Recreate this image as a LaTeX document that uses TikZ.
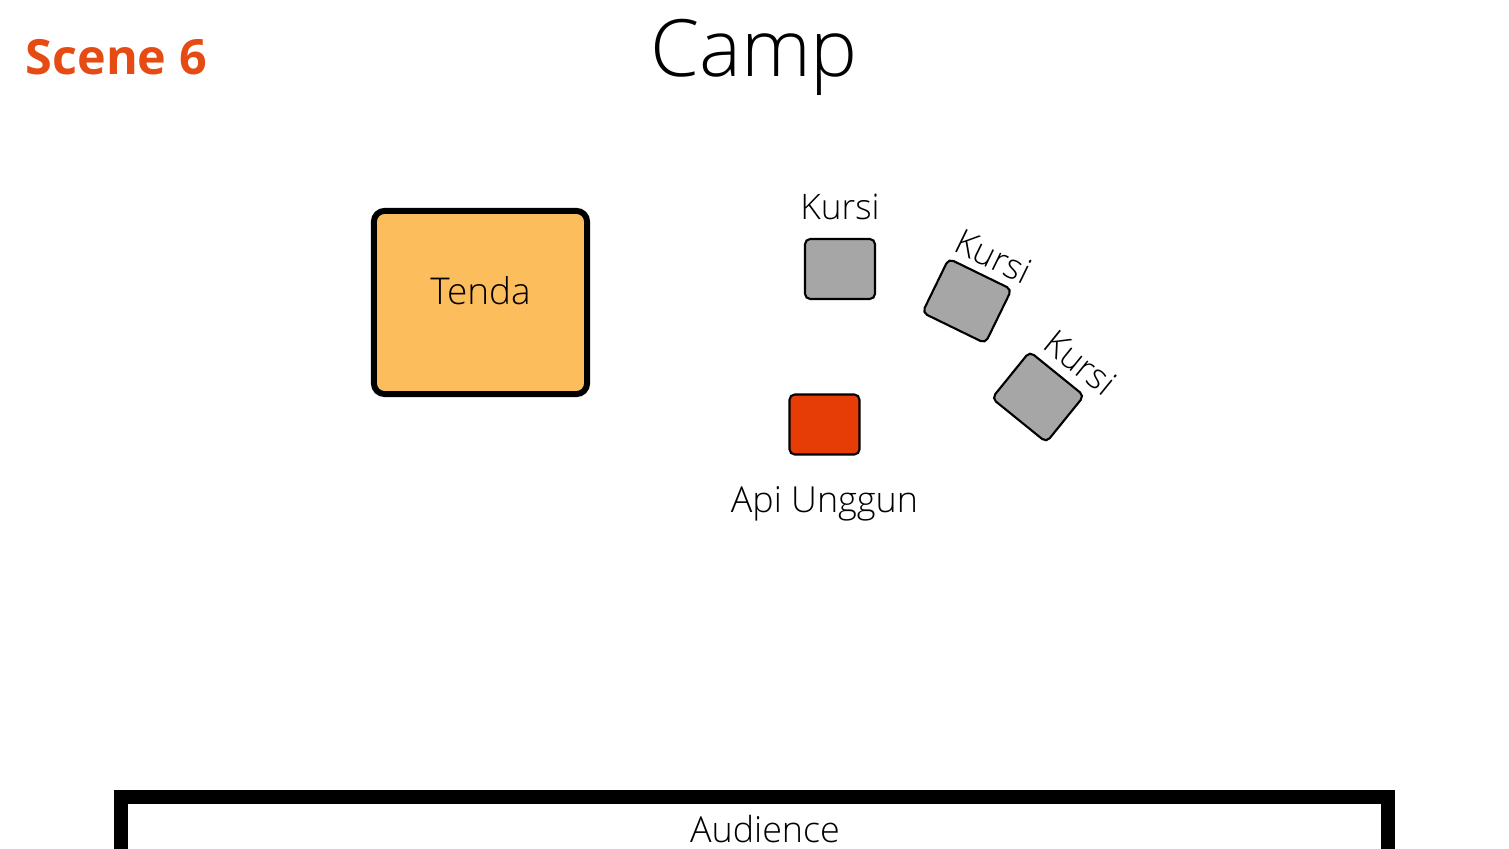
\documentclass[tikz,border=0pt]{standalone}
\usepackage{fontspec}
\setmainfont{Open Sans}
\newfontfamily\lightfont{Open Sans Light}
\usetikzlibrary{positioning}
\definecolor{scenered}{HTML}{E54B12}
\definecolor{tentfill}{HTML}{FCBD5C}
\definecolor{chairgray}{HTML}{A6A6A6}
\definecolor{firered}{HTML}{E63C05}

\tikzset{
  chair/.style={draw, line width=0.6pt, fill=chairgray, rounded corners=1.5pt,
    minimum width=0.70cm, minimum height=0.60cm, inner sep=0pt},
  tag/.style={font=\lightfont\fontsize{10}{12}\selectfont, inner sep=1pt}
}

\begin{document}
\begin{tikzpicture}[x=0.01cm,y=-0.01cm]
    \useasboundingbox (0,0) rectangle (1509,849);
    \node[font=\bfseries\fontsize{13.8}{16}\selectfont,text=scenered,anchor=west,inner sep=0pt] (scene) at (25,57) {Scene 6};
    \node[font=\lightfont\fontsize{22.5}{26}\selectfont] (title) at (754,57) {Camp};
    % tent
    \node[draw,line width=1.7pt,fill=tentfill,rounded corners=3pt,minimum width=2.13cm,minimum height=1.83cm] (tenda) at (480.5,302.5) {};
    \node[font=\lightfont\fontsize{10.5}{13}\selectfont] (tendatext) at (480.5,291) {Tenda};
    % chairs
    \node[chair] (k1) at (840,269) {};
    \node[chair,rotate=-26] (k2) at (967,301) {};
    \node[chair,rotate=-39] (k3) at (1038,397) {};
    \node[tag,above=4pt of k1] (k1text) {Kursi};
    \node[tag,rotate=-26,anchor=south] (k2text) at ([xshift=0.05cm,yshift=0.01cm]k2.north) {Kursi};
    \node[tag,rotate=-39,anchor=south] (k3text) at ([xshift=0.12cm,yshift=-0.03cm]k3.north) {Kursi};
    % fire
    \node[chair,fill=firered] (api) at (824.5,424.5) {};
    \node[font=\lightfont\fontsize{10.2}{12}\selectfont,below=0.18cm of api] (apitext) {Api Unggun};
    % audience
    \draw[line width=0.14cm] (121,880) -- (121,797) -- (1388,797) -- (1388,880);
    \node[font=\lightfont\fontsize{10.2}{12}\selectfont] (audience) at (765,829) {Audience};
\end{tikzpicture}
\end{document}
